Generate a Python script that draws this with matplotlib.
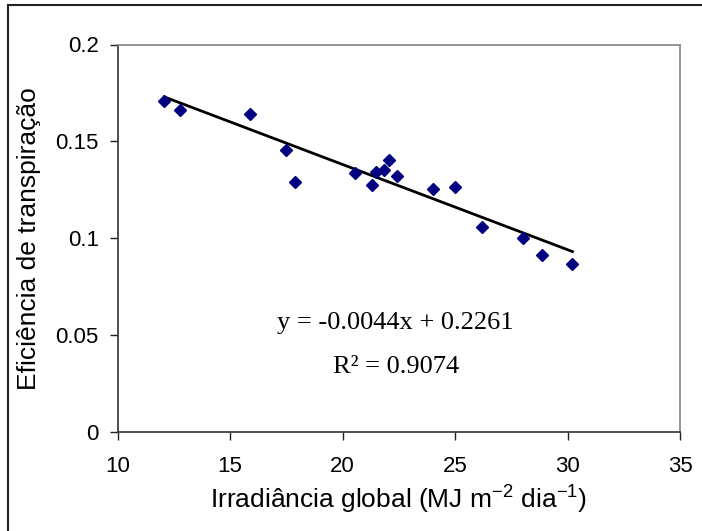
import matplotlib
matplotlib.use('Agg')
import matplotlib.pyplot as plt
from matplotlib.lines import Line2D
import numpy as np

# irradiância global (MJ m-2 dia-1) x eficiência de transpiração
irradiancia = [12.08, 12.79, 15.88, 17.48, 17.89, 20.54, 21.31, 21.48, 21.83,
               22.08, 22.41, 24.00, 25.00, 26.18, 28.01, 28.87, 30.22]
eficiencia = [0.1710, 0.1660, 0.1641, 0.1457, 0.1290, 0.1338, 0.1275, 0.1342,
              0.1351, 0.1402, 0.1323, 0.1256, 0.1265, 0.1060, 0.1000, 0.0914,
              0.0865]

slope = -0.0044
intercept = 0.2261
r2 = 0.9074

x_ticks = [10, 15, 20, 25, 30, 35]
y_ticks = [0, 0.05, 0.1, 0.15, 0.2]
y_tick_labels = ['0', '0.05', '0.1', '0.15', '0.2']

plt.rcParams['font.family'] = ['Liberation Sans', 'DejaVu Sans']
plt.rcParams['mathtext.fontset'] = 'custom'
plt.rcParams['mathtext.rm'] = 'Liberation Sans'
plt.rcParams['mathtext.it'] = 'Liberation Sans'

W, H = 702, 531
fig = plt.figure(figsize=(W / 100, H / 100), dpi=100)
ax = fig.add_axes([117.5 / W, 1 - 432 / H, (680 - 117.5) / W, (432 - 44.5) / H])

ax.plot(irradiancia, eficiencia, linestyle='none', marker='D', markersize=6.5,
        color='#000080', zorder=3)

xs = np.array([min(irradiancia), max(irradiancia)])
ax.plot(xs, slope * xs + intercept, color='black', linewidth=2, zorder=2)

ax.set_xlim(10, 35)
ax.set_ylim(0, 0.2)
ax.set_xticks(x_ticks)
ax.set_xticklabels([str(t) for t in x_ticks])
ax.set_yticks(y_ticks)
ax.set_yticklabels(y_tick_labels)

ax.tick_params(axis='both', direction='out', length=5.5, width=1,
               color='#202020', labelsize=16)
ax.tick_params(axis='x', pad=12)
ax.tick_params(axis='y', pad=8)

for side in ['left', 'bottom']:
    ax.spines[side].set_color('#404040')
    ax.spines[side].set_linewidth(1.3)
for side in ['top', 'right']:
    ax.spines[side].set_color('#8c8c8c')
    ax.spines[side].set_linewidth(1.3)

ax.set_xlabel(r'Irradiância global (MJ m$^{-2}$ dia$^{-1}$)', fontsize=19, labelpad=5)
ax.set_ylabel('Eficiência de transpiração', fontsize=19, labelpad=10)

ax.text(22.33, 0.0565, f'y = {slope:.4f}x + {intercept:.4f}', ha='center', va='center',
        fontsize=19, family='Liberation Serif')
ax.text(22.38, 0.0335, f'R² = {r2:.4f}', ha='center', va='center',
        fontsize=19, family='Liberation Serif')

# chart area border (only left and top visible in the crop)
fig.add_artist(Line2D([8 / W, 8 / W], [0, 1 - 5 / H], color='#202020', linewidth=1.5))
fig.add_artist(Line2D([8 / W, 1], [1 - 5 / H, 1 - 5 / H], color='#202020', linewidth=1.5))

fig.savefig('out.png', dpi=100)
